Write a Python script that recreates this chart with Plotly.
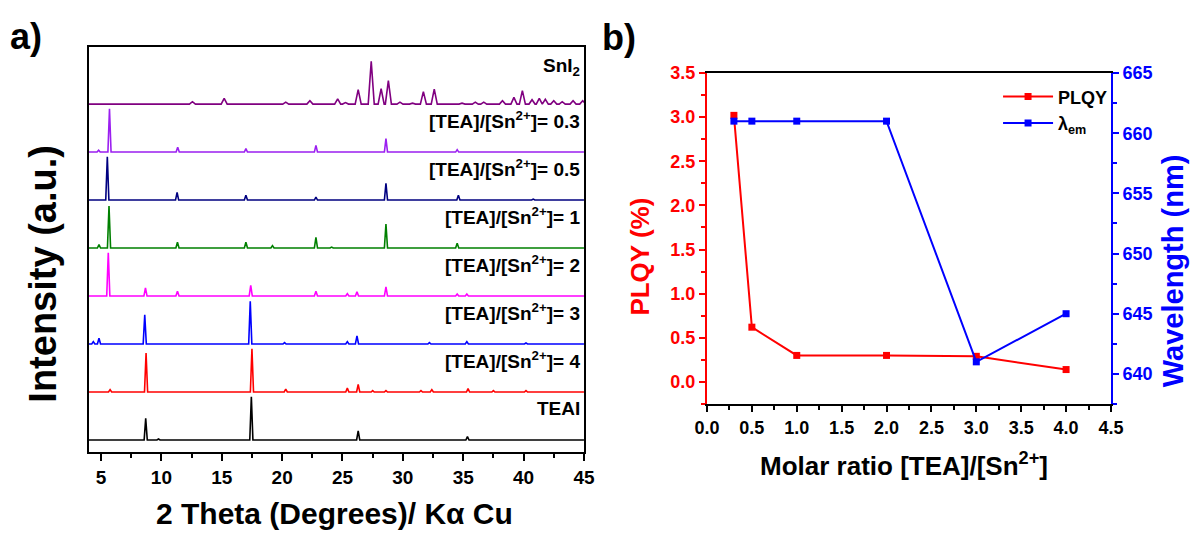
import plotly.graph_objects as go

# ---------------- Panel a: XRD patterns (peak positions / heights)
two_theta_range = [4.0, 45.0]

teai_pos = [8.7, 9.76, 17.45, 26.3, 35.35]
teai_h = [0.45, 0.02, 0.90, 0.19, 0.07]

r4_pos = [5.75, 8.73, 17.5, 20.3, 25.4, 26.3, 27.5, 28.6, 31.5, 32.4, 35.4, 37.5, 40.2]
r4_h = [0.05, 0.81, 0.90, 0.06, 0.08, 0.16, 0.03, 0.03, 0.03, 0.05, 0.07, 0.03, 0.03]

r3_pos = [4.36, 4.83, 8.62, 17.36, 20.2, 25.4, 26.2, 32.2, 35.3, 40.2]
r3_h = [0.05, 0.12, 0.61, 0.89, 0.03, 0.05, 0.17, 0.03, 0.05, 0.02]

r2_pos = [5.6, 8.68, 11.33, 17.4, 22.8, 25.4, 26.2, 28.6, 34.5, 35.3]
r2_h = [0.90, 0.17, 0.10, 0.22, 0.10, 0.05, 0.09, 0.19, 0.04, 0.04]

r1_pos = [4.83, 5.66, 11.33, 17.0, 19.2, 22.8, 24.1, 28.6, 34.5]
r1_h = [0.07, 0.875, 0.12, 0.12, 0.05, 0.22, 0.02, 0.50, 0.10]

r05_pos = [5.52, 11.3, 17.0, 22.8, 28.6, 34.6, 40.8]
r05_h = [0.90, 0.16, 0.10, 0.06, 0.35, 0.10, 0.02]

r03_pos = [4.8, 5.7, 11.35, 17.0, 22.8, 28.6, 34.5]
r03_h = [0.04, 0.90, 0.10, 0.07, 0.14, 0.28, 0.05]

sni2_pos = [12.57, 15.2, 20.3, 22.3, 24.6, 25.25, 26.3, 27.38, 28.2, 28.8, 29.76, 30.8,
            31.7, 32.6, 34.9, 36.0, 36.7, 38.25, 39.2, 39.9, 40.7, 41.3, 41.8, 42.5,
            43.2, 44.1, 44.9]
sni2_h = [0.05, 0.12, 0.04, 0.07, 0.11, 0.03, 0.30, 0.89, 0.32, 0.49, 0.04, 0.02,
          0.26, 0.31, 0.02, 0.04, 0.04, 0.07, 0.14, 0.28, 0.09, 0.12, 0.10, 0.07,
          0.05, 0.07, 0.07]

samples = ["TEAI", "4", "3", "2", "1", "0.5", "0.3", "SnI2"]
sample_peaks = [(teai_pos, teai_h), (r4_pos, r4_h), (r3_pos, r3_h), (r2_pos, r2_h),
                (r1_pos, r1_h), (r05_pos, r05_h), (r03_pos, r03_h), (sni2_pos, sni2_h)]
sample_labels = ["TEAI", "[TEA]/[Sn<sup>2+</sup>]= 4", "[TEA]/[Sn<sup>2+</sup>]= 3",
                 "[TEA]/[Sn<sup>2+</sup>]= 2", "[TEA]/[Sn<sup>2+</sup>]= 1",
                 "[TEA]/[Sn<sup>2+</sup>]= 0.5", "[TEA]/[Sn<sup>2+</sup>]= 0.3",
                 "SnI<sub>2</sub>"]
sample_colors = ["#000000", "#FF0000", "#0000FF", "#FF00FF", "#008000", "#000080",
                 "#9B1FF0", "#800080"]

# ---------------- Panel b: PLQY and emission wavelength
molar_ratio = [0.3, 0.5, 1.0, 2.0, 3.0, 4.0]
plqy = [3.02, 0.62, 0.30, 0.30, 0.29, 0.14]
wavelength = [661, 661, 661, 661, 641, 645]

FONT = "Liberation Sans, Arial, sans-serif"
fig = go.Figure()


def stick_profile(pos, h, offset, hw):
    xs = [two_theta_range[0]]
    ys = [offset]
    for p, v in zip(pos, h):
        xs += [p - hw, p, p + hw]
        ys += [offset, offset + v, offset]
    xs.append(two_theta_range[1])
    ys.append(offset)
    return xs, ys


annotations = []
for i, (name, (pos, h), col) in enumerate(zip(samples, sample_peaks, sample_colors)):
    hw = 0.25 if name == "SnI2" else 0.13
    xs, ys = stick_profile(pos, h, i, hw)
    fig.add_trace(go.Scatter(x=xs, y=ys, mode="lines", line=dict(color=col, width=1.6),
                             xaxis="x", yaxis="y", showlegend=False, hoverinfo="skip"))
    annotations.append(dict(x=44.85, y=i + (0.77 if name == "SnI2" else 0.66), xref="x",
                            yref="y", text=sample_labels[i], showarrow=False,
                            xanchor="right", yanchor="middle",
                            font=dict(family=FONT, size=19, color="black", weight="bold")))

fig.add_trace(go.Scatter(x=molar_ratio, y=plqy, mode="lines+markers", name="PLQY",
                         line=dict(color="#FF0000", width=2),
                         marker=dict(symbol="square", size=7, color="#FF0000"),
                         xaxis="x2", yaxis="y2"))
fig.add_trace(go.Scatter(x=molar_ratio, y=wavelength, mode="lines+markers",
                         name="λ<sub>em</sub>",
                         line=dict(color="#0000FF", width=2),
                         marker=dict(symbol="square", size=7, color="#0000FF"),
                         xaxis="x2", yaxis="y3"))

bold = dict(family=FONT, weight="bold")


def title_ann(text, x, y, size, color, angle=0):
    return dict(text=text, x=x, y=y, xref="paper", yref="paper", showarrow=False,
                xanchor="center", yanchor="middle", textangle=angle,
                font=dict(size=size, color=color, **bold))


annotations += [
    title_ann("Intensity (a.u.)", 0.036, 0.493, 38, "black", -90),
    title_ann("2 Theta (Degrees)/ Kα Cu", 0.2805, 0.05, 30, "black"),
    title_ann("Molar ratio [TEA]/[Sn<sup>2+</sup>]", 0.759, 0.14, 26, "black"),
    title_ann("PLQY (%)", 0.537, 0.524, 26, "#FF0000", -90),
    title_ann("Wavelength (nm)", 0.985, 0.498, 29, "#0000FF", -90),
    dict(text="a)", x=0.007, y=0.975, xref="paper", yref="paper", showarrow=False,
         xanchor="left", yanchor="top", font=dict(size=36, color="black", **bold)),
    dict(text="b)", x=0.504, y=0.972, xref="paper", yref="paper", showarrow=False,
         xanchor="left", yanchor="top", font=dict(size=36, color="black", **bold)),
]

fig.update_layout(
    width=1191, height=540,
    margin=dict(l=0, r=0, t=0, b=0),
    paper_bgcolor="white", plot_bgcolor="white",
    font=dict(family=FONT, color="black"),
    xaxis=dict(domain=[0.0747, 0.4903], range=two_theta_range, anchor="y",
               automargin=False,
               showline=True, linecolor="black", linewidth=2, mirror=True,
               ticks="outside", ticklen=7, tickwidth=2, tickcolor="black",
               tickvals=[5, 10, 15, 20, 25, 30, 35, 40, 45],
               minor=dict(ticks="outside", ticklen=4, tickwidth=2, tickcolor="black",
                          dtick=2.5, tick0=2.5, showgrid=False),
               showgrid=False, zeroline=False,
               tickfont=dict(size=19, color="black", **bold)),
    yaxis=dict(domain=[0.163, 0.913], range=[-0.25, 8.19], anchor="x",
               automargin=False,
               showline=True, linecolor="black", linewidth=2, mirror=True,
               showticklabels=False, ticks="", showgrid=False, zeroline=False),
    xaxis2=dict(domain=[0.5936, 0.9328], range=[0, 4.5], anchor="y2",
                automargin=False,
                showline=True, linecolor="black", linewidth=2, mirror=True,
                ticks="outside", ticklen=6, tickwidth=2, tickcolor="black",
                dtick=0.5, tickformat=".1f",
                minor=dict(ticks="outside", ticklen=4, tickwidth=2, tickcolor="black",
                           dtick=0.25, showgrid=False),
                showgrid=False, zeroline=False,
                tickfont=dict(size=18, color="black", **bold)),
    yaxis2=dict(domain=[0.2519, 0.8648], range=[-0.25, 3.5], anchor="x2",
                automargin=False,
                showline=True, linecolor="#FF0000", linewidth=2,
                ticks="outside", ticklen=6, tickwidth=2, tickcolor="#FF0000",
                tickvals=[0, 0.5, 1.0, 1.5, 2.0, 2.5, 3.0, 3.5], tickformat=".1f",
                minor=dict(ticks="outside", ticklen=4, tickwidth=2, tickcolor="#FF0000",
                           dtick=0.25, tick0=0, showgrid=False),
                showgrid=False, zeroline=False,
                tickfont=dict(size=18, color="#FF0000", **bold)),
    yaxis3=dict(range=[637.5, 665], overlaying="y2", side="right", anchor="x2",
                automargin=False,
                showline=True, linecolor="#0000FF", linewidth=2,
                ticks="outside", ticklen=6, tickwidth=2, tickcolor="#0000FF",
                tickvals=[640, 645, 650, 655, 660, 665],
                minor=dict(ticks="outside", ticklen=4, tickwidth=2, tickcolor="#0000FF",
                           dtick=2.5, tick0=637.5, showgrid=False),
                showgrid=False, zeroline=False,
                tickfont=dict(size=18, color="#0000FF", **bold)),
    legend=dict(x=0.838, y=0.855, xanchor="left", yanchor="top",
                bgcolor="rgba(0,0,0,0)", borderwidth=0, tracegroupgap=0,
                font=dict(size=18, color="black", **bold), itemwidth=50),
    annotations=annotations,
)

fig.write_html("out.html", config={"displayModeBar": False},
               post_script="document.body.style.margin='0';document.body.style.overflow='hidden';")
